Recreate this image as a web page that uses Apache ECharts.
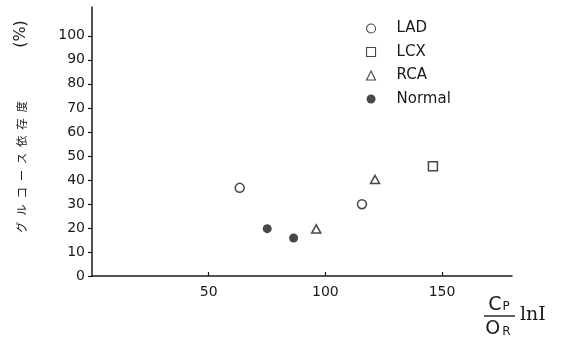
<!DOCTYPE html>
<html>
<head>
<meta charset="utf-8">
<script src="https://cdn.jsdelivr.net/npm/echarts@6/dist/echarts.min.js"></script>
<style>
  html, body { margin: 0; padding: 0; background: #fff; }
  #main { width: 561px; height: 343px; }
</style>
</head>
<body>
<div id="main"></div>
<script>
// values: [x, y]
let ladPoints = [[63.3, 36.7], [115.7, 29.9]];
let lcxPoints = [[146.1, 45.7]];
let rcaPoints = [[96.1, 19.6], [121.3, 40.2]];
let normalPoints = [[75.1, 19.7], [86.4, 15.8]];

let xTicks = [50, 100, 150];
let yTicks = [0, 10, 20, 30, 40, 50, 60, 70, 80, 90, 100];

let ink = '#1a1a1a';
let font = 'DejaVu Sans';

let myChart = echarts.init(document.getElementById('main'));

let openStyle = { color: '#fff', borderColor: ink, borderWidth: 1.5 };

let option = {
  animation: false,
  backgroundColor: '#fff',
  grid: { left: 92, right: 49, top: 7, bottom: 67 },
  legend: {
    orient: 'vertical',
    left: 361,
    top: 16,
    itemWidth: 9,
    itemHeight: 9,
    itemGap: 8.5,
    itemStyle: { borderWidth: 1.1 },
    textStyle: { fontFamily: font, fontSize: 15, color: ink, lineHeight: 14, padding: [0, 0, 0, 16] },
    data: ['LAD', 'LCX', 'RCA', 'Normal']
  },
  xAxis: {
    type: 'value',
    min: 0,
    max: 180,
    axisLine: { lineStyle: { color: ink, width: 1.5 } },
    axisTick: { show: true, inside: true, length: 4, customValues: xTicks, lineStyle: { color: ink, width: 1.2 } },
    axisLabel: { customValues: xTicks, margin: 9, fontFamily: font, fontSize: 14, color: ink },
    splitLine: { show: false }
  },
  yAxis: {
    type: 'value',
    min: 0,
    max: 112,
    axisLine: { show: true, lineStyle: { color: ink, width: 1.5 } },
    axisTick: { show: true, length: 4, customValues: yTicks, lineStyle: { color: ink, width: 1.2 } },
    axisLabel: { customValues: yTicks, margin: 7, fontFamily: font, fontSize: 14, color: ink },
    splitLine: { show: false }
  },
  series: [
    { name: 'LAD', type: 'scatter', symbol: 'circle', symbolSize: 9, itemStyle: openStyle, data: ladPoints },
    { name: 'LCX', type: 'scatter', symbol: 'rect', symbolSize: 9, itemStyle: openStyle, data: lcxPoints },
    { name: 'RCA', type: 'scatter', symbol: 'triangle', symbolSize: [9, 8], itemStyle: openStyle, data: rcaPoints },
    { name: 'Normal', type: 'scatter', symbol: 'circle', symbolSize: 9, itemStyle: { color: ink }, data: normalPoints }
  ],
  graphic: [
    {
      type: 'text', x: 21, y: 34, rotation: Math.PI / 2,
      style: { text: '(%)', fontFamily: font, fontSize: 16, fill: ink, align: 'center', verticalAlign: 'middle' }
    },
    {
      type: 'text', x: 22, y: 167, rotation: Math.PI / 2,
      style: { text: 'グ\u2002ル\u2002コ\u2002ー\u2002ス\u2002依\u2002存\u2002度', fontFamily: 'Noto Sans CJK JP', fontSize: 11.5, fill: ink, align: 'center', verticalAlign: 'middle' }
    },
    {
      type: 'text', x: 499, y: 305,
      style: {
        text: '{c|C}{p|P}',
        align: 'center', verticalAlign: 'middle',
        rich: {
          c: { fontFamily: font, fontSize: 19, fill: ink, color: ink },
          p: { fontFamily: font, fontSize: 12, fill: ink, color: ink, padding: [4, 0, 0, 1] }
        }
      }
    },
    { type: 'line', shape: { x1: 484, y1: 316, x2: 515, y2: 316 }, style: { stroke: ink, lineWidth: 1.4 } },
    {
      type: 'text', x: 498, y: 329,
      style: {
        text: '{o|O}{r|R}',
        align: 'center', verticalAlign: 'middle',
        rich: {
          o: { fontFamily: font, fontSize: 19, fill: ink, color: ink },
          r: { fontFamily: font, fontSize: 12, fill: ink, color: ink, padding: [6, 0, 0, 2] }
        }
      }
    },
    {
      type: 'text', x: 520, y: 315,
      style: { text: 'lnI', fontFamily: 'DejaVu Serif', fontSize: 19, fill: ink, align: 'left', verticalAlign: 'middle' }
    }
  ]
};

myChart.setOption(option);
</script>
</body>
</html>
